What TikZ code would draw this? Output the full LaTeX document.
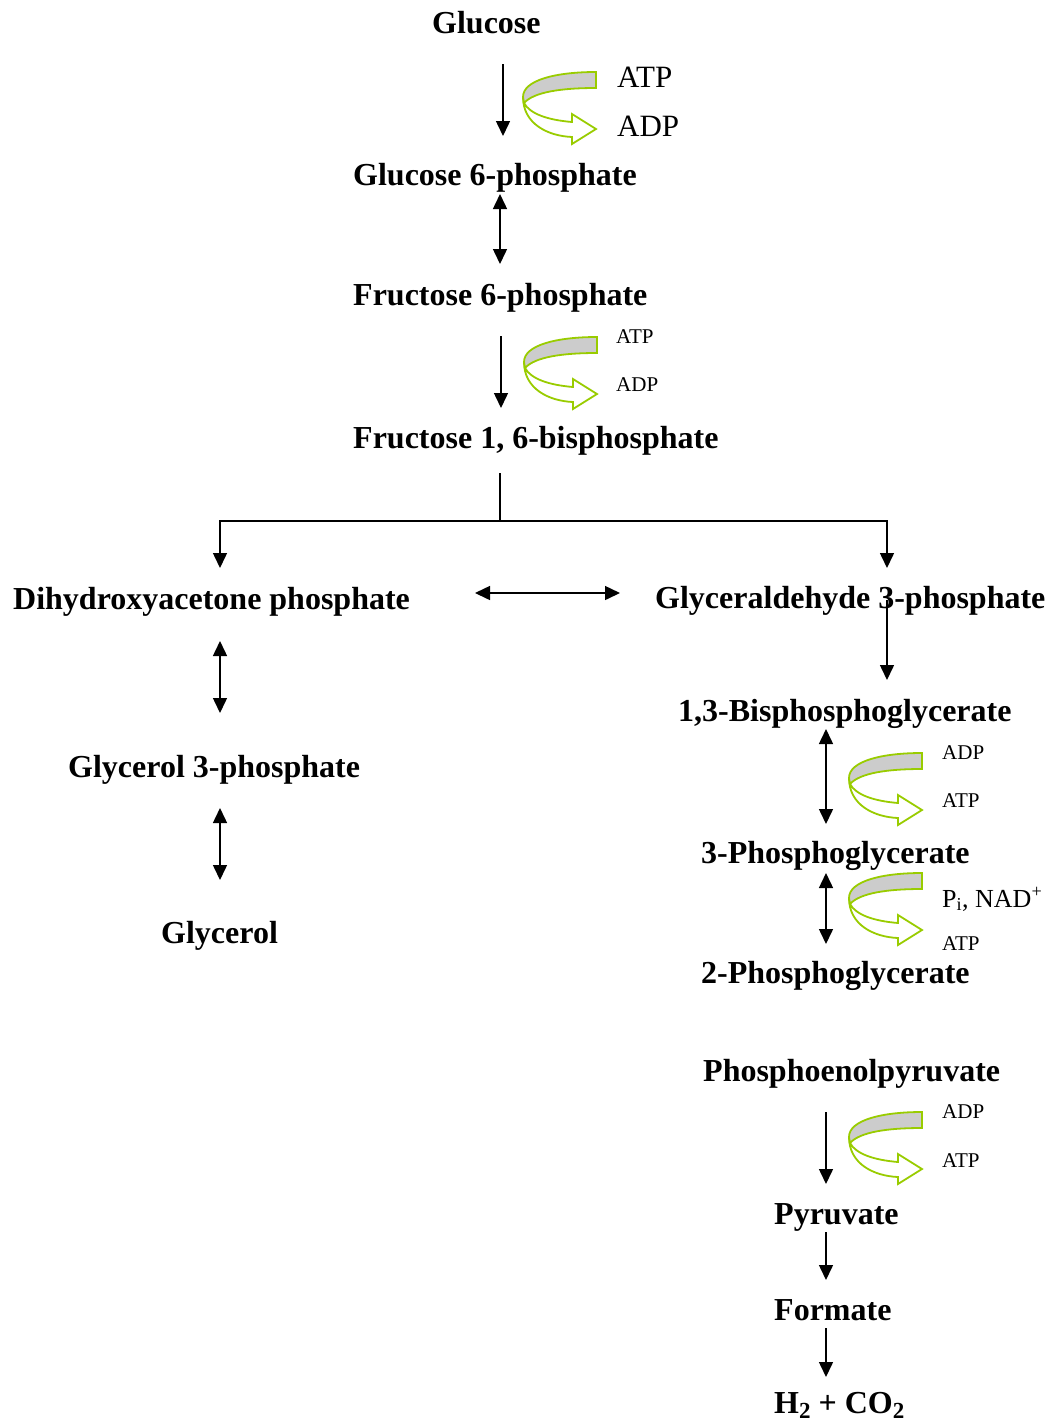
\documentclass[tikz,border=0pt]{standalone}
\usepackage{fontspec}
\setmainfont{Liberation Serif}
\usetikzlibrary{arrows.meta}
\definecolor{flipgreen}{RGB}{153,204,0}
\definecolor{flipgray}{RGB}{204,204,204}
\newcommand{\lowsub}[1]{\raisebox{-0.17em}{\fontsize{23}{24}\selectfont #1}}
\tikzset{
  ribbon/.pic={
    \fill[white] (-72,31) .. controls (-66,42) and (-48,48) .. (-24,50) -- (-24,42) -- (0,57) -- (-24,72) -- (-24,65) .. controls (-48,64) and (-73,52) .. (-73,25) -- cycle;
    \draw[flipgreen,line width=1.8pt,line join=miter] (-72,31) .. controls (-66,42) and (-48,48) .. (-24,50) -- (-24,42) -- (0,57) -- (-24,72) -- (-24,65) .. controls (-48,64) and (-73,52) .. (-73,25);
    \filldraw[fill=flipgray,draw=flipgreen,line width=1.8pt] (0,0) .. controls (-40,0) and (-73,8) .. (-73,25) -- (-72,31) .. controls (-62,20) and (-35,16) .. (0,16) -- cycle;
  }
}
\begin{document}
\begin{tikzpicture}[x=1pt,y=-1pt,
  met/.style={anchor=base west,inner sep=0pt,font=\fontsize{32}{36}\selectfont\bfseries},
  cof/.style={anchor=base west,inner sep=0pt,font=\fontsize{21}{24}\selectfont},
  cofM/.style={anchor=base west,inner sep=0pt,font=\fontsize{26}{30}\selectfont},
  cofL/.style={anchor=base west,inner sep=0pt,font=\fontsize{31}{36}\selectfont},
  arr/.style={line width=1.5pt,-{Triangle[length=15pt,width=14pt]}},
  darr/.style={line width=1.5pt,{Triangle[length=15pt,width=14pt]}-{Triangle[length=15pt,width=14pt]}},
  ln/.style={line width=1.5pt}
]
\useasboundingbox (0,0) rectangle (1050,1422);

% metabolites
\node[met] (glc) at (432,33) {Glucose};
\node[met] (g6p) at (353,185) {Glucose 6-phosphate};
\node[met] (f6p) at (353,305) {Fructose 6-phosphate};
\node[met] (fbp) at (353,448) {Fructose 1, 6-bisphosphate};
\node[met] (dhap) at (13,609) {Dihydroxyacetone phosphate};
\node[met] (gap) at (655,608) {Glyceraldehyde 3-phosphate};
\node[met] (g3p) at (68,777) {Glycerol 3-phosphate};
\node[met] (gly) at (161,943) {Glycerol};
\node[met] (bpg) at (678,721) {1,3-Bisphosphoglycerate};
\node[met] (pga) at (701,863) {3-Phosphoglycerate};
\node[met] (pgb) at (701,983) {2-Phosphoglycerate};
\node[met] (pep) at (703,1081) {Phosphoenolpyruvate};
\node[met] (pyr) at (774,1224) {Pyruvate};
\node[met] (fmt) at (774,1320) {Formate};
\node[met] (hco) at (774,1413) {H\lowsub{2} + CO\lowsub{2}};

% cofactors
\node[cofL] (atpa) at (617,87) {ATP};
\node[cofL] (adpa) at (617,136) {ADP};
\node[cof] (atpb) at (616,343) {ATP};
\node[cof] (adpb) at (616,391) {ADP};
\node[cof] (adpc) at (942,759) {ADP};
\node[cof] (atpc) at (942,807) {ATP};
\node[cofM] (pin) at (942,907) {P\textsubscript{i}, NAD\textsuperscript{+}};
\node[cof] (atpd) at (942,950) {ATP};
\node[cof] (adpe) at (942,1118) {ADP};
\node[cof] (atpe) at (942,1167) {ATP};

% ribbons
\pic at (596,72) {ribbon};
\pic at (597,337) {ribbon};
\pic at (922,753) {ribbon};
\pic at (922,873) {ribbon};
\pic at (922,1112) {ribbon};

% connector end points
\coordinate (a1s) at (503,64);   \coordinate (a1e) at (503,136);
\coordinate (a2s) at (500,194);  \coordinate (a2e) at (500,264);
\coordinate (a3s) at (501,336);  \coordinate (a3e) at (501,408);
\coordinate (brs) at (500,473);  \coordinate (brm) at (500,521);
\coordinate (brl) at (220,568);  \coordinate (brr) at (887,568);
\coordinate (hzs) at (475,593);  \coordinate (hze) at (620,593);
\coordinate (l1s) at (220,641);  \coordinate (l1e) at (220,713);
\coordinate (l2s) at (220,808);  \coordinate (l2e) at (220,880);
\coordinate (r1s) at (887,600);  \coordinate (r1e) at (887,680);
\coordinate (r2s) at (826,729);  \coordinate (r2e) at (826,824);
\coordinate (r3s) at (826,873);  \coordinate (r3e) at (826,944);
\coordinate (r4s) at (826,1112); \coordinate (r4e) at (826,1184);
\coordinate (r5s) at (826,1232); \coordinate (r5e) at (826,1280);
\coordinate (r6s) at (826,1328); \coordinate (r6e) at (826,1377);

% connectors
\draw[arr] (a1s) -- (a1e);
\draw[darr] (a2s) -- (a2e);
\draw[arr] (a3s) -- (a3e);
\draw[ln] (brs) -- (brm);
\draw[arr] (brm) -| (brl);
\draw[arr] (brm) -| (brr);
\draw[darr] (hzs) -- (hze);
\draw[darr] (l1s) -- (l1e);
\draw[darr] (l2s) -- (l2e);
\draw[arr] (r1s) -- (r1e);
\draw[darr] (r2s) -- (r2e);
\draw[darr] (r3s) -- (r3e);
\draw[arr] (r4s) -- (r4e);
\draw[arr] (r5s) -- (r5e);
\draw[arr] (r6s) -- (r6e);
\end{tikzpicture}
\end{document}
